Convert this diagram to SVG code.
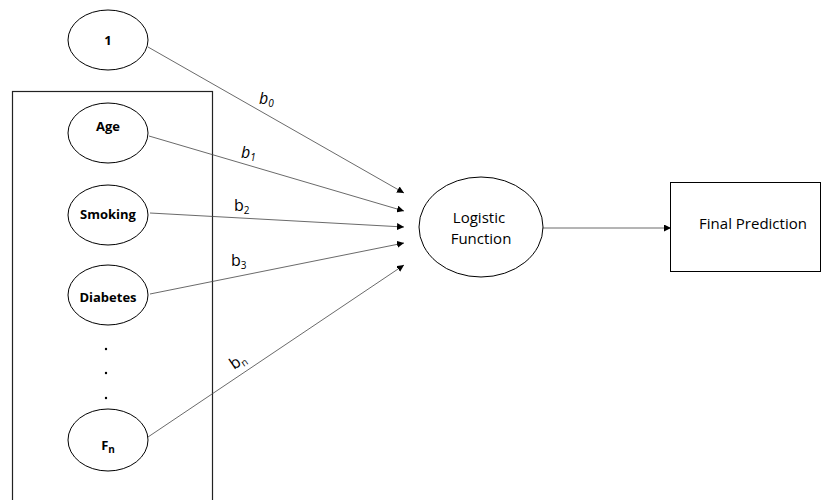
<svg xmlns="http://www.w3.org/2000/svg" width="822" height="500" viewBox="0 0 822 500">
  <style>
    .shape { fill: #ffffff; stroke: #000000; stroke-width: 1; }
    .frame { fill: none; stroke: #222222; stroke-width: 1.2; }
    .edge { fill: none; stroke: #444444; stroke-width: 0.8; marker-end: url(#arrow); }
    .in { font-family: "Open Sans", "Liberation Sans", sans-serif; font-weight: bold; font-size: 13px; text-anchor: middle; fill: #000; }
    .lab { font-family: "Open Sans", "Liberation Sans", sans-serif; font-size: 15px; text-anchor: middle; fill: #000; }
    .w { font-family: "Open Sans", "Liberation Sans", sans-serif; font-size: 16px; fill: #000; }
  </style>
  <defs>
    <marker id="arrow" viewBox="0 0 10 10" refX="10" refY="5" markerWidth="7" markerHeight="7" markerUnits="userSpaceOnUse" orient="auto">
      <path d="M0,0 L10,5 L0,10 z" fill="#000"/>
    </marker>
  </defs>
  <rect width="822" height="500" fill="#ffffff"/>

  <!-- feature frame -->
  <rect class="frame" x="12.5" y="91.5" width="200" height="420"/>

  <!-- connectors -->
  <g id="connectors">
    <line class="edge" x1="148" y1="47" x2="404" y2="193"/>
    <line class="edge" x1="149" y1="136" x2="404" y2="211"/>
    <line class="edge" x1="150" y1="213" x2="404" y2="227"/>
    <line class="edge" x1="150" y1="294" x2="404" y2="243"/>
    <line class="edge" x1="148" y1="437" x2="404" y2="265"/>
    <line class="edge" x1="543" y1="228" x2="671" y2="228"/>
  </g>

  <!-- weight labels -->
  <g id="weights">
    <text class="w" x="259" y="104" font-style="italic">b<tspan font-size="10" dy="3">0</tspan></text>
    <text class="w" x="241" y="158" font-style="italic">b<tspan font-size="10" dy="3">1</tspan></text>
    <text class="w" x="234" y="211">b<tspan font-size="10" dy="3">2</tspan></text>
    <text class="w" x="231" y="266">b<tspan font-size="10" dy="3">3</tspan></text>
    <text class="w" transform="translate(234,370) rotate(-34)">b<tspan font-size="10" dy="3">n</tspan></text>
  </g>

  <g id="node-one">
    <ellipse class="shape" cx="108" cy="40" rx="40" ry="30"/>
    <text class="in" x="108" y="45">1</text>
  </g>
  <g id="node-age">
    <ellipse class="shape" cx="108" cy="133" rx="40" ry="30"/>
    <text class="in" x="108" y="131">Age</text>
  </g>
  <g id="node-smoking">
    <ellipse class="shape" cx="108" cy="215" rx="40" ry="30"/>
    <text class="in" x="108" y="219">Smoking</text>
  </g>
  <g id="node-diabetes">
    <ellipse class="shape" cx="108" cy="295" rx="40" ry="30"/>
    <text class="in" x="108" y="302">Diabetes</text>
  </g>
  <g id="ellipsis">
    <circle cx="106" cy="349" r="1.2" fill="#000"/>
    <circle cx="106" cy="373" r="1.2" fill="#000"/>
    <circle cx="106" cy="398" r="1.2" fill="#000"/>
  </g>
  <g id="node-fn">
    <ellipse class="shape" cx="108" cy="440" rx="40" ry="31"/>
    <text class="in" x="108" y="450" font-size="15">F<tspan font-size="10" dy="3">n</tspan></text>
  </g>
  <g id="node-logistic">
    <ellipse class="shape" cx="481" cy="227" rx="62" ry="50"/>
    <text class="lab" x="479" y="223">Logistic</text>
    <text class="lab" x="481" y="244">Function</text>
  </g>
  <g id="node-prediction">
    <rect class="shape" x="670.5" y="182.5" width="150" height="89"/>
    <text class="lab" x="753" y="229">Final Prediction</text>
  </g>
</svg>
